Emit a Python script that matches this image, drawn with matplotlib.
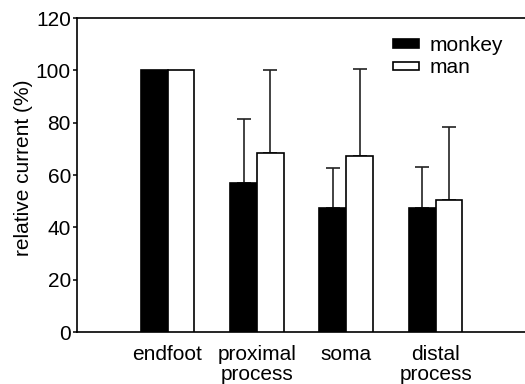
import matplotlib
matplotlib.use("Agg")
import matplotlib.pyplot as plt
import numpy as np

plt.rcParams['font.family'] = ['Liberation Sans', 'DejaVu Sans']

categories = ["endfoot", "proximal\nprocess", "soma", "distal\nprocess"]
monkey = [100, 57.1, 47.3, 47.3]
man = [100, 68.4, 67.1, 50.3]
monkey_err = [0, 24.3, 15.5, 15.7]
man_err = [0, 31.6, 33.4, 27.9]

fig = plt.figure(figsize=(5.25, 3.84), dpi=100)
ax = fig.add_axes([0.1467, 0.1354, 0.8533, 0.8177])

x = np.arange(len(categories))
w = 0.30
ax.bar(x - w/2, monkey, w, color='black', edgecolor='black', linewidth=1.2, label='monkey', zorder=3)
ax.bar(x + w/2, man, w, color='white', edgecolor='black', linewidth=1.2, label='man', zorder=3)
for xi, v, e in zip(x - w/2, monkey, monkey_err):
    if e > 0:
        ax.errorbar(xi, v, yerr=[[0], [e]], color='#222222', lw=1.2, capsize=5, capthick=1.2, zorder=2)
for xi, v, e in zip(x + w/2, man, man_err):
    if e > 0:
        ax.errorbar(xi, v, yerr=[[0], [e]], color='#222222', lw=1.2, capsize=5, capthick=1.2, zorder=2)

ax.set_xlim(-1.013, 4.0)
ax.set_ylim(0, 120)
ax.set_yticks([0, 20, 40, 60, 80, 100, 120])
ax.set_xticks(x)
ax.set_xticklabels(categories, fontsize=15, va='top', linespacing=1.1)
ax.tick_params(axis='x', length=0, pad=9)
ax.tick_params(axis='y', labelsize=15, length=3.2, width=1.1, direction='out', pad=1.2)
ax.set_ylabel("relative current (%)", fontsize=15, labelpad=2, y=0.524)
for s in ['left', 'top', 'bottom']:
    ax.spines[s].set_linewidth(1.2)
ax.spines['right'].set_visible(False)

leg = ax.legend(loc='upper left', bbox_to_anchor=(0.705, 0.943), frameon=False, fontsize=15,
                handlelength=1.25, handleheight=0.26, handletextpad=0.5, labelspacing=0.17,
                borderaxespad=0, borderpad=0)

fig.savefig("out.png", dpi=100)
